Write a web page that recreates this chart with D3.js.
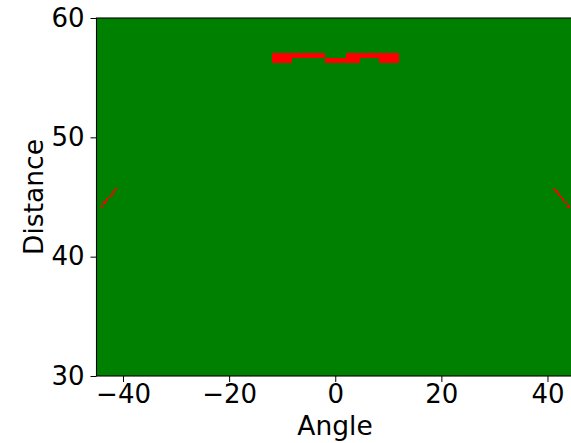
<!DOCTYPE html>
<html>
<head>
<meta charset="utf-8">
<script src="https://cdn.jsdelivr.net/npm/d3@7"></script>
<style>
  body { margin: 0; background: #fff; }
  text { font-family: "DejaVu Sans", sans-serif; fill: #000; }
</style>
</head>
<body>
<div id="chart"></div>
<script>
// grid extent
const angleRange = [-45, 45]
const distanceRange = [30, 60]
const xTicks = [-40, -20, 0, 20, 40]
const yTicks = [30, 40, 50, 60]

// red cells: [angle0, angle1, dist0, dist1]
const wallCells = [
  [-12.0, -2.0, 56.65, 57.05],
  [-12.0, -8.1, 56.25, 56.65],
  [-2.0, 2.1, 56.25, 56.65],
  [2.1, 12.1, 56.65, 57.05],
  [2.1, 4.6, 56.25, 56.65],
  [8.3, 12.1, 56.25, 56.65]
]
const leftEdgeCells = [
  [-44.1, -43.7, 44.07, 44.32],
  [-43.7, -43.3, 44.38, 44.63],
  [-43.15, -42.77, 44.66, 44.89],
  [-42.66, -42.28, 44.89, 45.11],
  [-42.28, -41.91, 45.11, 45.33],
  [-41.91, -41.53, 45.33, 45.56],
  [-41.53, -41.2, 45.56, 45.75]
]
const rightEdgeCells = [
  [41.1, 41.5, 45.56, 45.75],
  [41.5, 41.9, 45.33, 45.56],
  [41.9, 42.3, 45.11, 45.33],
  [42.3, 42.7, 44.89, 45.11],
  [42.8, 43.2, 44.66, 44.89],
  [43.3, 43.7, 44.38, 44.63],
  [43.7, 44.3, 44.07, 44.32]
]

const width = 571, height = 443
const margin = {top: 18, right: -3, bottom: 67, left: 96.5}

const svg = d3.select("#chart")
  .append("svg")
    .attr("width", width)
    .attr("height", height)

const x = d3.scaleLinear()
  .domain(angleRange)
  .range([margin.left, width - margin.right])
const y = d3.scaleLinear()
  .domain(distanceRange)
  .range([height - margin.bottom, margin.top])

svg.append("rect")
  .attr("x", x(angleRange[0]))
  .attr("y", y(distanceRange[1]))
  .attr("width", x(angleRange[1]) - x(angleRange[0]))
  .attr("height", y(distanceRange[0]) - y(distanceRange[1]))
  .attr("fill", "#008000")

const cells = wallCells.concat(leftEdgeCells, rightEdgeCells)
svg.append("g")
  .selectAll("rect")
  .data(cells)
  .join("rect")
    .attr("x", d => x(d[0]))
    .attr("y", d => y(d[3]))
    .attr("width", d => x(d[1]) - x(d[0]))
    .attr("height", d => y(d[2]) - y(d[3]))
    .attr("fill", "#ff0000")
    .attr("shape-rendering", "crispEdges")

// frame
svg.append("rect")
  .attr("x", x(angleRange[0]))
  .attr("y", y(distanceRange[1]))
  .attr("width", x(angleRange[1]) - x(angleRange[0]))
  .attr("height", y(distanceRange[0]) - y(distanceRange[1]))
  .attr("fill", "none")
  .attr("stroke", "#000")
  .attr("stroke-width", 1.1)

const fmt = d => d < 0 ? "\u2212" + Math.abs(d) : String(d)

svg.append("g")
  .attr("transform", "translate(0," + y(distanceRange[0]) + ")")
  .call(d3.axisBottom(x).tickValues(xTicks).tickFormat(fmt).tickSize(6).tickPadding(3))
  .call(g => g.select(".domain").remove())
  .call(g => g.selectAll("text").attr("font-size", 26).attr("font-family", "DejaVu Sans"))

svg.append("g")
  .attr("transform", "translate(" + x(angleRange[0]) + ",0)")
  .call(d3.axisLeft(y).tickValues(yTicks).tickFormat(fmt).tickSize(6).tickPadding(6))
  .call(g => g.select(".domain").remove())
  .call(g => g.selectAll("text").attr("font-size", 26).attr("font-family", "DejaVu Sans"))

svg.append("text")
  .attr("x", 335)
  .attr("y", 435)
  .attr("text-anchor", "middle")
  .attr("font-size", 26.5)
  .text("Angle")

svg.append("text")
  .attr("transform", "translate(43," + (y(45)) + ") rotate(-90)")
  .attr("text-anchor", "middle")
  .attr("font-size", 26.5)
  .text("Distance")
</script>
</body>
</html>
